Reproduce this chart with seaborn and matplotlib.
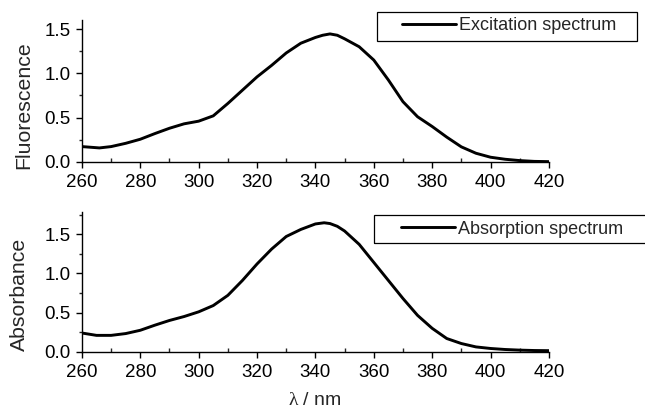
import numpy as np
import pandas as pd
import matplotlib
matplotlib.use("Agg")
import matplotlib.pyplot as plt
from matplotlib.ticker import MultipleLocator
from matplotlib.patches import Rectangle
import seaborn as sns

# Excitation spectrum (fluorescence vs wavelength, nm)
wl_exc = [260, 266, 270, 275, 280, 285, 290, 295, 300, 305, 310, 315, 320, 325, 330, 335,
          340, 342.5, 345, 347.5, 350, 355, 360, 365, 370, 375, 380, 385, 390, 395, 400,
          405, 410, 415, 420]
fluorescence = [0.173, 0.158, 0.173, 0.21, 0.256, 0.32, 0.38, 0.43, 0.46, 0.52, 0.66, 0.81,
                0.96, 1.09, 1.23, 1.34, 1.405, 1.43, 1.445, 1.43, 1.39, 1.30, 1.15, 0.925,
                0.68, 0.51, 0.40, 0.28, 0.17, 0.098, 0.053, 0.03, 0.015, 0.006, 0.003]

# Absorption spectrum (absorbance vs wavelength, nm)
wl_abs = [260, 265, 270, 275, 280, 285, 290, 295, 300, 305, 310, 315, 320, 325, 330, 335,
          340, 343, 345, 347.5, 350, 355, 360, 365, 370, 375, 380, 385, 390, 395, 400,
          405, 410, 415, 420]
absorbance = [0.24, 0.21, 0.21, 0.233, 0.275, 0.34, 0.40, 0.45, 0.51, 0.59, 0.72, 0.91, 1.12,
              1.31, 1.47, 1.56, 1.63, 1.645, 1.635, 1.60, 1.54, 1.37, 1.14, 0.91, 0.68, 0.465,
              0.30, 0.17, 0.106, 0.063, 0.043, 0.03, 0.022, 0.017, 0.015]

sns.set_style("ticks")
plt.rcParams["font.family"] = ["Liberation Sans", "DejaVu Sans"]
plt.rcParams["mathtext.fontset"] = "custom"
plt.rcParams["mathtext.rm"] = "Liberation Serif"

W, H = 645, 412
fig = plt.figure(figsize=(W / 100, H / 100), dpi=100)
ax1 = fig.add_axes([0.127, 0.607, 0.724, 0.344])
ax2 = fig.add_axes([0.127, 0.146, 0.724, 0.339])

df1 = pd.DataFrame({"wl": wl_exc, "val": fluorescence})
df2 = pd.DataFrame({"wl": wl_abs, "val": absorbance})

line_kw = dict(color="black", lw=2.1, solid_joinstyle="round", solid_capstyle="round")
sns.lineplot(data=df1, x="wl", y="val", ax=ax1, label="Excitation spectrum", **line_kw)
sns.lineplot(data=df2, x="wl", y="val", ax=ax2, label="Absorption spectrum", **line_kw)

for ax, ylab, ytop in [(ax1, "Fluorescence", 1.6), (ax2, "Absorbance", 1.78)]:
    ax.set_xlim(260, 420)
    ax.set_ylim(0, ytop)
    ax.xaxis.set_major_locator(MultipleLocator(20))
    ax.xaxis.set_minor_locator(MultipleLocator(10))
    ax.yaxis.set_major_locator(MultipleLocator(0.5))
    ax.yaxis.set_minor_locator(MultipleLocator(0.25))
    ax.yaxis.set_major_formatter(plt.FormatStrFormatter("%.1f"))
    ax.tick_params(axis="both", which="major", direction="out", length=4, width=1,
                   labelsize=13.5, colors="black")
    ax.tick_params(axis="x", which="major", pad=5)
    ax.tick_params(axis="y", which="major", pad=4)
    ax.tick_params(axis="x", which="minor", direction="in", length=3, width=1)
    ax.tick_params(axis="y", which="minor", direction="out", length=2.5, width=1)
    for s in ["top", "right"]:
        ax.spines[s].set_visible(False)
    for s in ["left", "bottom"]:
        ax.spines[s].set_color("black")
        ax.spines[s].set_linewidth(1.0)
    ax.set_ylabel(ylab, fontsize=15.3, va="center")
    ax.set_xlabel("")
    ax.set_facecolor("white")

ax1.yaxis.set_label_coords(-0.125, 0.40)
ax2.yaxis.set_label_coords(-0.133, 0.41)

ax2.set_xlabel(r"$\mathrm{\lambda}$ / nm", fontsize=14)
ax2.xaxis.set_label_coords(0.499, -0.29)

# Legends with boxed frames
legend_specs = [
    (ax1, (402 / W, 1 - 26 / H), (377, 12, 260, 29)),
    (ax2, (401 / W, 1 - 229 / H), (374, 215, 300, 28)),
]
for ax, anchor, (bx, by, bw, bh) in legend_specs:
    ax.legend(loc="center left", bbox_to_anchor=anchor,
              bbox_transform=fig.transFigure, frameon=False,
              fontsize=13, handlelength=3.0, borderpad=0, handletextpad=0.15,
              borderaxespad=0)
    box = Rectangle((bx / W, 1 - (by + bh) / H), bw / W, bh / H,
                    transform=fig.transFigure, fill=False,
                    edgecolor="black", lw=0.9, zorder=3)
    fig.patches.append(box)

fig.savefig("out.png", dpi=100, facecolor="white")
